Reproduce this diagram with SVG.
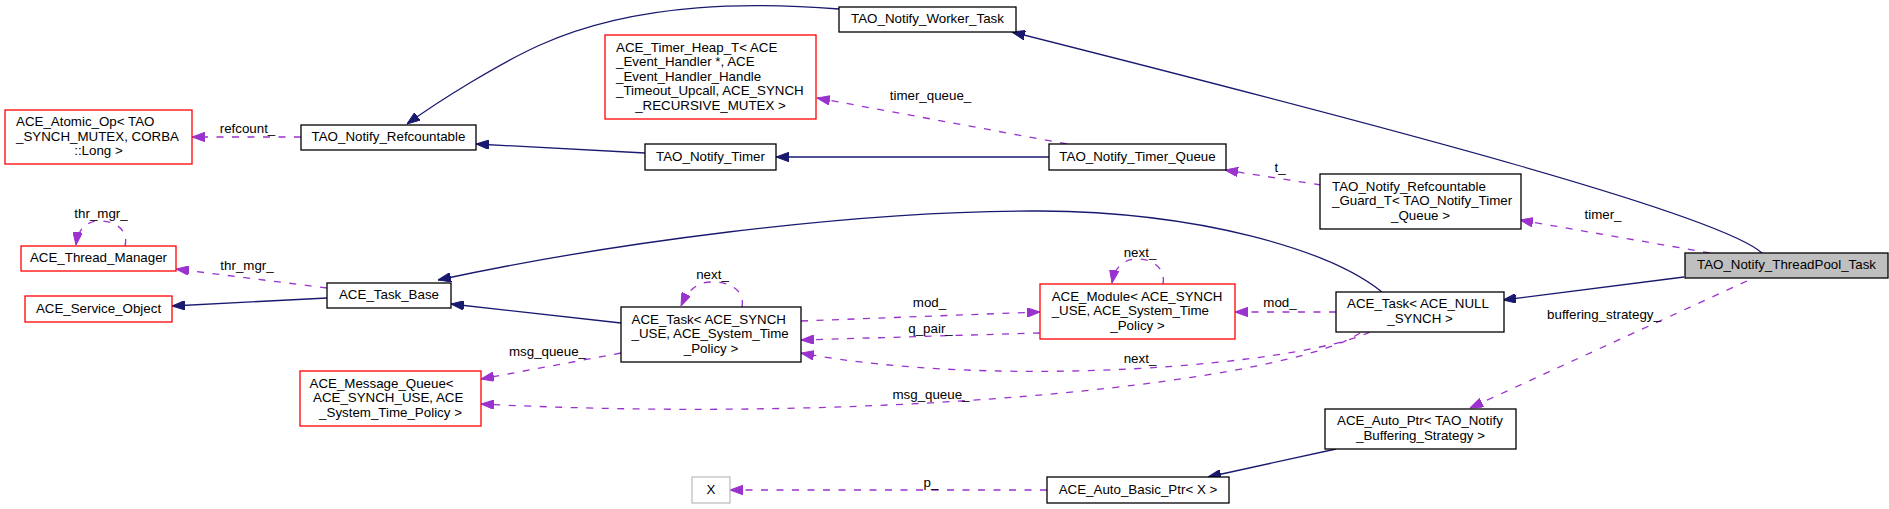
<svg xmlns="http://www.w3.org/2000/svg" width="1889" height="509" viewBox="0 0 1889 509">
<style>
  text { font-family: "Liberation Sans", Arial, Helvetica, sans-serif; font-size: 13.33px; fill: #000; }
  .c { text-anchor: middle; }
  .l { text-anchor: start; }
  .node rect { fill: #fff; stroke: #000; stroke-width: 1.3; }
  .node.red rect { stroke: #ff0000; }
  .node.grey rect { stroke: #bfbfbf; }
  .node.root rect { fill: #bfbfbf; stroke: #000; }
  .inh { fill: none; stroke: #191970; stroke-width: 1.3; marker-end: url(#ab); }
  .use { fill: none; stroke: #9a32cd; stroke-width: 1.3; stroke-dasharray: 7,8.5; marker-end: url(#ap); }
</style>
<defs>
  <marker id="ab" markerUnits="userSpaceOnUse" viewBox="0 0 13 9.5" markerWidth="13" markerHeight="9.5" refX="13" refY="4.75" orient="auto">
    <path d="M0,0 L13,4.75 L0,9.5 Z" fill="#191970" stroke="#191970" stroke-width="1"/>
  </marker>
  <marker id="ap" markerUnits="userSpaceOnUse" viewBox="0 0 13 9.5" markerWidth="13" markerHeight="9.5" refX="13" refY="4.75" orient="auto">
    <path d="M0,0 L13,4.75 L0,9.5 Z" fill="#9a32cd" stroke="#9a32cd" stroke-width="1"/>
  </marker>
</defs>
<rect x="0" y="0" width="1889" height="509" fill="#fff"/>

<g id="connectors">
  <path class="inh" d="M1762,253 C1720,215 1400,130 1012,32"/>
  <path class="inh" d="M839,9 C760,3 640,0 540,45 C500,63 440,100 407,124"/>
  <path class="inh" d="M645,153 L476,144"/>
  <path class="inh" d="M1049,157 L776,157"/>
  <path class="use" d="M1067,144 L817,98"/>
  <text class="c" x="930.5" y="100">timer_queue_</text>
  <path class="use" d="M1321,185 L1225,170"/>
  <text class="c" x="1280" y="171.5">t_</text>
  <path class="use" d="M1710,253 L1520,220"/>
  <text class="c" x="1603" y="219">timer_</text>
  <path class="inh" d="M1684,277 L1503,300"/>
  <path class="use" d="M1747,281 L1470,408"/>
  <text class="c" x="1604" y="319">buffering_strategy_</text>
  <path class="inh" d="M1382,292 C1330,250 1200,212 1040,211 C850,210 600,245 438,280"/>
  <path class="inh" d="M621,323 L451,304"/>
  <path class="inh" d="M327,298 L172,306"/>
  <path class="use" d="M327,288 L176,269"/>
  <text class="c" x="247" y="270">thr_mgr_</text>
  <path class="use" d="M125,246 C129,230 115,221 100,221 C86,221 78,229 76,245"/>
  <text class="c" x="101" y="217.5">thr_mgr_</text>
  <path class="use" d="M301,137 L192,137"/>
  <text class="c" x="247.5" y="132.5">refcount_</text>
  <path class="use" d="M621,353 L481,379"/>
  <text class="c" x="547.5" y="356">msg_queue_</text>
  <path class="use" d="M801,321 L1040,312"/>
  <text class="c" x="929.5" y="307">mod_</text>
  <path class="use" d="M1040,333 L801,340"/>
  <text class="c" x="930.5" y="333">q_pair_</text>
  <path class="use" d="M742,307 C745,290 730,282 712,282 C697,282 688,290 681,306"/>
  <text class="c" x="712.5" y="279">next_</text>
  <path class="use" d="M1163,284 C1166,268 1152,259 1138,259 C1124,259 1115,266 1112,283"/>
  <text class="c" x="1140" y="256.5">next_</text>
  <path class="use" d="M1336,312 L1235,312"/>
  <text class="c" x="1280" y="307">mod_</text>
  <path class="use" d="M1370,332 C1300,365 1000,390 801,353"/>
  <text class="c" x="1140" y="363">next_</text>
  <path class="use" d="M1360,333 C1290,380 900,425 481,404"/>
  <text class="c" x="931" y="399">msg_queue_</text>
  <path class="inh" d="M1336,449 L1208,477"/>
  <path class="use" d="M1047,490 L730,490"/>
  <text class="c" x="931" y="487">p_</text>
</g>

<g id="node-threadpool-task" class="node root">
  <rect x="1685" y="253" width="203" height="25"/>
  <text class="c" x="1786.5" y="269">TAO_Notify_ThreadPool_Task</text>
</g>
<g id="node-worker-task" class="node">
  <rect x="839" y="7" width="177" height="25"/>
  <text class="c" x="927.5" y="23">TAO_Notify_Worker_Task</text>
</g>
<g id="node-refcountable" class="node">
  <rect x="301" y="125" width="175" height="25"/>
  <text class="c" x="388.5" y="141">TAO_Notify_Refcountable</text>
</g>
<g id="node-atomic-op" class="node red">
  <rect x="5" y="110" width="187" height="54"/>
  <text class="l" x="16" y="126">ACE_Atomic_Op&lt; TAO</text>
  <text class="l" x="16" y="140.5">_SYNCH_MUTEX, CORBA</text>
  <text class="c" x="98.5" y="155">::Long &gt;</text>
</g>
<g id="node-timer-heap" class="node red">
  <rect x="605" y="35" width="211" height="84"/>
  <text class="l" x="616" y="51.5">ACE_Timer_Heap_T&lt; ACE</text>
  <text class="l" x="616" y="66">_Event_Handler *, ACE</text>
  <text class="l" x="616" y="80.5">_Event_Handler_Handle</text>
  <text class="l" x="616" y="95">_Timeout_Upcall, ACE_SYNCH</text>
  <text class="c" x="710.5" y="109.5">_RECURSIVE_MUTEX &gt;</text>
</g>
<g id="node-timer" class="node">
  <rect x="645" y="144" width="131" height="26"/>
  <text class="c" x="710.5" y="160.5">TAO_Notify_Timer</text>
</g>
<g id="node-timer-queue" class="node">
  <rect x="1049" y="144" width="177" height="26"/>
  <text class="c" x="1137.5" y="160.5">TAO_Notify_Timer_Queue</text>
</g>
<g id="node-guard" class="node">
  <rect x="1320" y="174" width="201" height="55"/>
  <text class="l" x="1332" y="190.5">TAO_Notify_Refcountable</text>
  <text class="l" x="1332" y="205">_Guard_T&lt; TAO_Notify_Timer</text>
  <text class="c" x="1420.5" y="219.5">_Queue &gt;</text>
</g>
<g id="node-thread-manager" class="node red">
  <rect x="21" y="246" width="155" height="25"/>
  <text class="c" x="98.5" y="262">ACE_Thread_Manager</text>
</g>
<g id="node-service-object" class="node red">
  <rect x="25" y="296" width="147" height="26"/>
  <text class="c" x="98.5" y="312.5">ACE_Service_Object</text>
</g>
<g id="node-task-base" class="node">
  <rect x="327" y="283" width="124" height="25"/>
  <text class="c" x="389" y="299">ACE_Task_Base</text>
</g>
<g id="node-message-queue" class="node red">
  <rect x="300" y="371" width="181" height="55"/>
  <text class="l" x="309.5" y="387.5">ACE_Message_Queue&lt;</text>
  <text class="l" x="313" y="402">ACE_SYNCH_USE, ACE</text>
  <text class="c" x="390.5" y="416.5">_System_Time_Policy &gt;</text>
</g>
<g id="node-task-synch" class="node">
  <rect x="621" y="307" width="180" height="55"/>
  <text class="l" x="631.5" y="323.5">ACE_Task&lt; ACE_SYNCH</text>
  <text class="l" x="631.5" y="338">_USE, ACE_System_Time</text>
  <text class="c" x="711" y="352.5">_Policy &gt;</text>
</g>
<g id="node-module" class="node red">
  <rect x="1040" y="284" width="195" height="55"/>
  <text class="l" x="1051.7" y="300.5">ACE_Module&lt; ACE_SYNCH</text>
  <text class="l" x="1051.7" y="315">_USE, ACE_System_Time</text>
  <text class="c" x="1137.5" y="329.5">_Policy &gt;</text>
</g>
<g id="node-task-null" class="node">
  <rect x="1336" y="292" width="168" height="40"/>
  <text class="l" x="1347" y="308.25">ACE_Task&lt; ACE_NULL</text>
  <text class="c" x="1420" y="322.75">_SYNCH &gt;</text>
</g>
<g id="node-auto-ptr" class="node">
  <rect x="1325" y="409" width="191" height="40"/>
  <text class="l" x="1337" y="425.25">ACE_Auto_Ptr&lt; TAO_Notify</text>
  <text class="c" x="1420.5" y="439.75">_Buffering_Strategy &gt;</text>
</g>
<g id="node-auto-basic-ptr" class="node">
  <rect x="1047" y="477" width="182" height="26"/>
  <text class="c" x="1138" y="493.5">ACE_Auto_Basic_Ptr&lt; X &gt;</text>
</g>
<g id="node-x" class="node grey">
  <rect x="692" y="477" width="38" height="26"/>
  <text class="c" x="711" y="493.5">X</text>
</g>
</svg>
